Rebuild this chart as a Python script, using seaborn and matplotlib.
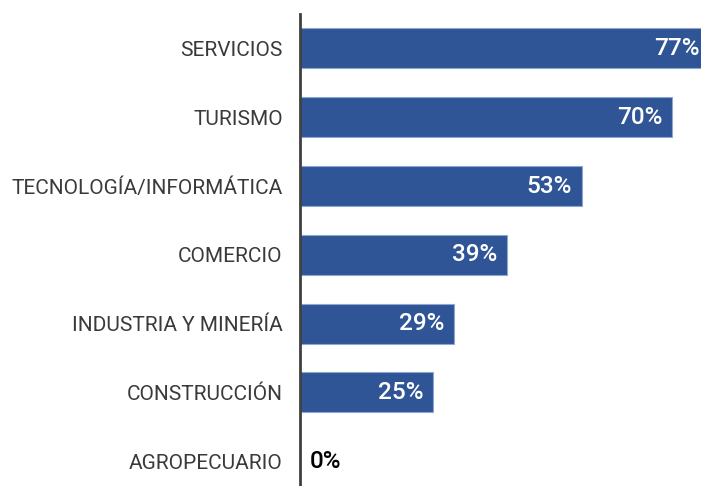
import matplotlib
matplotlib.use("Agg")
import matplotlib.pyplot as plt
import pandas as pd
import seaborn as sns

# 데이터
sectores = [
    "SERVICIOS",
    "TURISMO",
    "TECNOLOGÍA/INFORMÁTICA",
    "COMERCIO",
    "INDUSTRIA Y MINERÍA",
    "CONSTRUCCIÓN",
    "AGROPECUARIO",
]
porcentajes = [77, 70, 53, 39, 29, 25, 0]
etiquetas = ["77%", "70%", "53%", "39%", "29%", "25%", "0%"]

BAR_COLOR = "#2F5597"
FONT = ["Roboto", "DejaVu Sans"]

sns.set_theme(style="white")
plt.rcParams["font.family"] = FONT

df = pd.DataFrame({"sector": sectores, "pct": porcentajes})

fig = plt.figure(figsize=(7.01, 4.86), dpi=100)
ax = fig.add_axes([300 / 701, 0.0, 1 - 300 / 701, 472 / 486])

sns.barplot(data=df, x="pct", y="sector", color=BAR_COLOR, saturation=1,
            width=0.58, edgecolor="#8FA7D0", linewidth=0.8, ax=ax)

ax.set_xlim(0, 75.46)
ax.set_ylim(6.36, -0.5)
ax.set_xlabel("")
ax.set_ylabel("")
ax.set_xticks([])
for side in ["top", "right", "bottom"]:
    ax.spines[side].set_visible(False)
ax.spines["left"].set_color("#404040")
ax.spines["left"].set_linewidth(2)
ax.tick_params(axis="y", length=0, pad=12.5, labelsize=15, labelcolor="#3a3a3a")

for i, (v, lab) in enumerate(zip(porcentajes, etiquetas)):
    if v > 0:
        ax.text(v - 1.8, i, lab, ha="right", va="center", color="white",
                fontsize=17.5, fontweight="medium", clip_on=False)
    else:
        ax.text(v + 1.8, i, lab, ha="left", va="center", color="black",
                fontsize=17.5, fontweight="medium")

fig.savefig("out.png", dpi=100)
